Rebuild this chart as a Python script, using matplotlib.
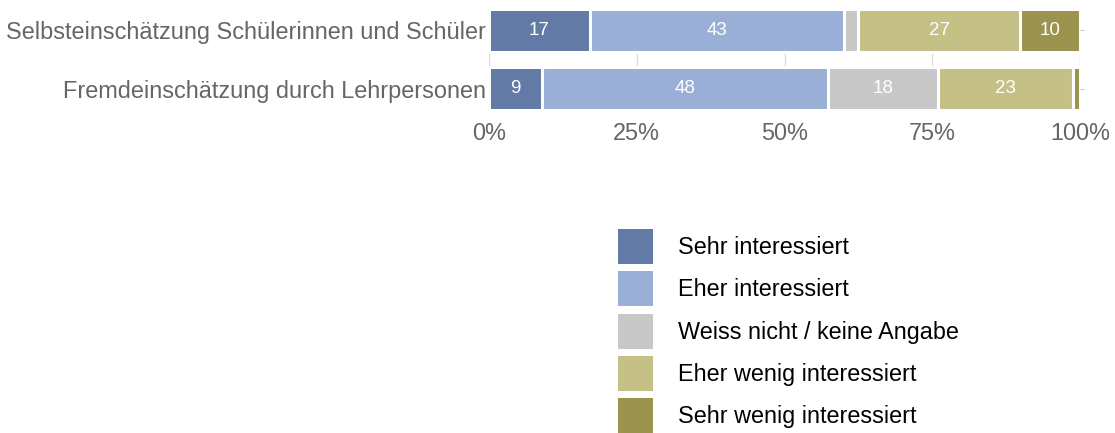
import matplotlib
matplotlib.use("Agg")
import matplotlib.pyplot as plt
from matplotlib.patches import Patch
import numpy as np

plt.rcParams['font.family'] = ['Liberation Sans', 'DejaVu Sans']

categories = ["Selbsteinschätzung Schülerinnen und Schüler",
              "Fremdeinschätzung durch Lehrpersonen"]
series_names = ["Sehr interessiert", "Eher interessiert", "Weiss nicht / keine Angabe",
                "Eher wenig interessiert", "Sehr wenig interessiert"]
sehr_interessiert = [17.1, 9.0]
eher_interessiert = [43.0, 48.4]
weiss_nicht = [2.4, 18.5]
eher_wenig = [27.3, 23.0]
sehr_wenig = [10.2, 1.1]
x_ticks = [0, 25, 50, 75, 100]
x_tick_labels = ["0%", "25%", "50%", "75%", "100%"]

colors = ["#617AA6", "#9AAFD6", "#C8C8C8", "#C5C085", "#9B934E"]
series = [sehr_interessiert, eher_interessiert, weiss_nicht, eher_wenig, sehr_wenig]

fig = plt.figure(figsize=(11.15, 4.33), dpi=100)
ax = fig.add_axes([489/1115, 1-110/433, (1080-489)/1115, 101/433])

y = np.arange(len(categories))
h = 0.74
left = np.zeros(len(categories))
for vals, col in zip(series, colors):
    vals = np.array(vals)
    ax.barh(y, vals, left=left, height=h, color=col, edgecolor='white', linewidth=2.2, zorder=3)
    for yi, v, l in zip(y, vals, left):
        if v >= 5:
            ax.text(l + v/2, yi, f"{round(v)}", ha='center', va='center', color='white',
                    fontsize=13.5, zorder=4)
    left += vals

ax.set_xlim(0, 100)
ax.set_ylim(len(categories) - 1 + h/2, -h/2)
ax.set_xticks(x_ticks)
ax.set_xticklabels(x_tick_labels)
ax.set_yticks(y)
ax.set_yticklabels(categories)
ax.grid(axis='x', color='#DDDDDD', linewidth=1, zorder=0)
ax.set_axisbelow(True)
for s in ax.spines.values():
    s.set_visible(False)
ax.tick_params(axis='x', length=0, pad=9, labelsize=16.9, labelcolor='#666666')
ax.tick_params(axis='y', left=False, right=True, length=3, width=0.8, color='#CCCCCC',
               pad=-0.6, labelsize=16.9, labelcolor='#666666')

handles = [Patch(facecolor=c, edgecolor='none') for c in colors]
fs = 16.8
px = fs * 100 / 72
H = 35.0
hh = (H - 0.245 * px) / (0.65 * px)
fig.legend(handles, series_names, loc='upper left',
           bbox_to_anchor=(618/1115, 1-229/433), frameon=False, borderpad=0,
           borderaxespad=0, fontsize=fs, handlelength=35/px, handleheight=hh,
           labelspacing=(42.3-H)/px, handletextpad=25/px)

fig.savefig("out.png", dpi=100)
